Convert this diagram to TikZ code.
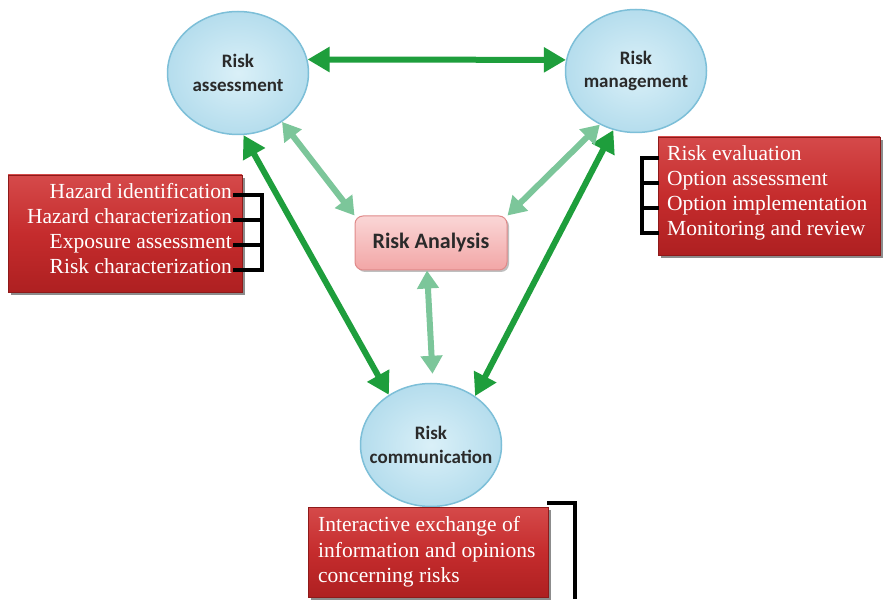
\documentclass[tikz,border=0pt]{standalone}
\usepackage{fontspec}
\setmainfont{Liberation Serif}
\newfontfamily\calib{Carlito}
\usetikzlibrary{arrows.meta,shapes.geometric,shadows,calc}
\definecolor{dkgreen}{HTML}{1E9E3C}
\definecolor{ltgreen}{HTML}{7CC69A}
\definecolor{bubbleedge}{HTML}{7DBFD8}
\definecolor{bubblein}{HTML}{DAF0F8}
\definecolor{bubbleout}{HTML}{B5DDED}
\definecolor{textgray}{HTML}{2A2A2A}
\definecolor{pinktop}{HTML}{FAD6D6}
\definecolor{pinkbot}{HTML}{F2A6A6}
\definecolor{pinkedge}{HTML}{E08A8A}
\definecolor{redtop}{HTML}{D54A4A}
\definecolor{redbot}{HTML}{AE2021}
\definecolor{redmid}{HTML}{C52C2D}
\definecolor{rededge}{HTML}{8E1A1A}
\begin{document}
\begin{tikzpicture}[x=1pt,y=-1pt,
  bubble/.style={ellipse, draw=bubbleedge, line width=1.5pt, inner color=bubblein, outer color=bubbleout,
    minimum width=141pt, minimum height=123pt, inner xsep=-30pt, inner ysep=0pt, align=center,
    font=\calib\bfseries\fontsize{19}{23.5}\selectfont, text=textgray},
  anbox/.style={rectangle, rounded corners=8pt, draw=pinkedge, line width=1pt, top color=pinktop, bottom color=pinkbot,
    minimum width=152pt, minimum height=54pt, inner sep=0pt,
    font=\calib\bfseries\fontsize{22}{26}\selectfont, text=textgray,
    drop shadow={shadow xshift=2pt, shadow yshift=-2pt, opacity=0.25, fill=black}},
  redbox/.style={rectangle, draw=rededge, line width=0.6pt, top color=redtop, bottom color=redbot, middle color=redmid,
    inner sep=0pt, drop shadow={shadow xshift=3pt, shadow yshift=-3pt, opacity=0.45, fill=black}},
  boxtext/.style={inner sep=0pt, text=white, font=\fontsize{21.5}{25}\selectfont},
  dkarrow/.style={draw=dkgreen, line width=6pt, {Triangle[length=22pt,width=24pt]}-{Triangle[length=22pt,width=24pt]}},
  ltarrow/.style={draw=ltgreen, line width=6pt, {Triangle[length=18pt,width=21pt]}-{Triangle[length=18pt,width=21pt]}},
  bracket/.style={draw=black, line width=3.2pt}
]
\useasboundingbox[fill=white] (0,0) rectangle (884,601);

% main nodes
\node[bubble] (ra) at (238,73) {Risk\\assessment};
\node[bubble] (rm) at (636,71) {Risk\\management};
\node[bubble] (rc) at (431,445) {Risk\\communication};
\node[anbox] (an) at (431,243) {Risk Analysis};

% arrows
\draw[dkarrow] (ra.11) -- (rm.171);
\draw[dkarrow] (ra.-85) -- (rc.130);
\draw[dkarrow] (rm.-111) -- (rc.48);
\draw[ltarrow] (ra.-48) -- (an.north west);
\draw[ltarrow] (rm.-124) -- (an.north east);
\draw[ltarrow, shorten >=9pt] ([xshift=-4pt]an.south) -- ([xshift=2pt]rc.north);

% left box
\node[redbox, minimum width=234pt, minimum height=117pt] (lbox) at (125,233.5) {};
\node[boxtext, anchor=base east] (h1) at (232,199) {Hazard identification};
\node[boxtext, anchor=base east] (h2) at (232,224) {Hazard characterization};
\node[boxtext, anchor=base east] (h3) at (232,249) {Exposure assessment};
\node[boxtext, anchor=base east] (h4) at (232,274) {Risk characterization};
\foreach \n in {h1,h2,h3,h4}
  \draw[bracket] ([xshift=1pt,yshift=4pt]\n.base east) -- ++(30,0);
\draw[bracket, line cap=rect] (262,195) -- (262,270);

% right box
\node[redbox, minimum width=222pt, minimum height=118pt] (rbox) at (769,196) {};
\node[boxtext, anchor=base west] (m1) at (667,161) {Risk evaluation};
\node[boxtext, anchor=base west] (m2) at (667,186) {Option assessment};
\node[boxtext, anchor=base west] (m3) at (667,211) {Option implementation};
\node[boxtext, anchor=base west] (m4) at (667,236) {Monitoring and review};
\foreach \n in {m1,m2,m3,m4}
  \draw[bracket] ([xshift=-8pt,yshift=3pt]\n.base west) -- ++(-17,0);
\draw[bracket, line cap=rect] (642,158) -- (642,233);

% bottom box
\node[redbox, minimum width=240pt, minimum height=90pt] (bbox) at (428,552) {};
\node[boxtext, anchor=base west] (c1) at (318,531) {Interactive exchange of};
\node[boxtext, anchor=base west] (c2) at (318,557) {information and opinions};
\node[boxtext, anchor=base west] (c3) at (318,582) {concerning risks};
\draw[bracket] (547,503) -- (575,503) -- (575,599);
\end{tikzpicture}
\end{document}
